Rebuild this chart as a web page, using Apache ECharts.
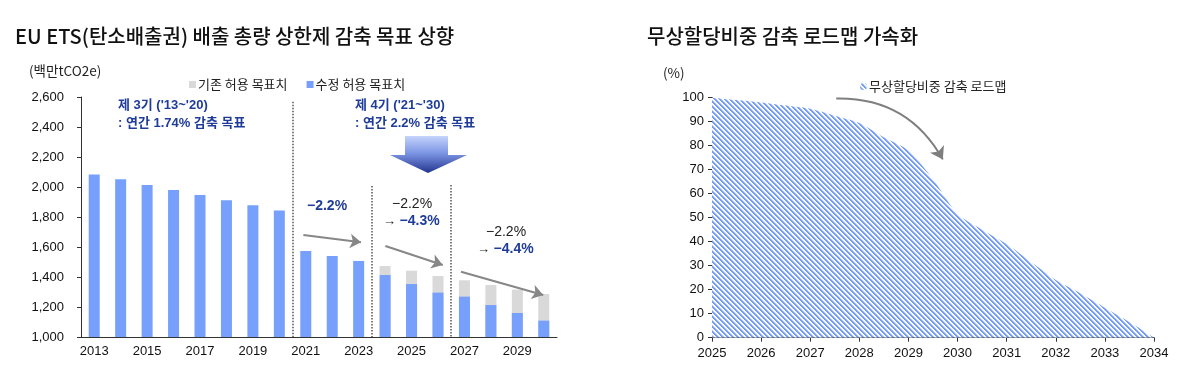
<!DOCTYPE html>
<html>
<head>
<meta charset="utf-8">
<script src="https://cdn.jsdelivr.net/npm/echarts@6/dist/echarts.min.js"></script>
<style>
html,body{margin:0;padding:0;background:#fff;}
#chart{width:1200px;height:379px;}
</style>
</head>
<body>
<div id="chart"></div>
<script>
// ---------- data ----------
const capYears = ['2013','2014','2015','2016','2017','2018','2019','2020','2021','2022','2023','2024','2025','2026','2027','2028','2029','2030'];
const revisedCap = [2084,2051,2013,1980,1947,1911,1878,1844,1573,1540,1507,1413,1353,1296,1269,1213,1160,1109];
const existingCap = [null,null,null,null,null,null,null,null,null,null,null,1473,1442,1407,1378,1347,1316,1287];
const capAxisMin = 1000, capAxisMax = 2600, capAxisStep = 200;

const roadmapYears = [2025,2025.5,2026,2026.5,2027,2027.5,2028,2028.5,2029,2029.5,2030,2030.5,2031,2031.5,2032,2032.5,2033,2033.5,2034];
const freeAllocShare = [100,99,98,96.7,95.4,92.5,89.5,83.5,78,66,51.5,45,39,31.5,24,18.5,12.5,6.5,0];
const shareAxisMin = 0, shareAxisMax = 100, shareAxisStep = 10;

// trend arrows (overlay x index, value)
const trendArrows = [
  [[8.41,1680],[10.59,1631]],
  [[11.51,1607],[13.68,1480]],
  [[14.37,1435],[17.48,1280]]
];
const phaseDividers = [
  [[8,2569],[8,1000]],
  [[11,2007],[11,1000]],
  [[14,2013],[14,1000]]
];
const roadmapArrow = [[2027.53,99.7],[2029.70,74.3]];

// ---------- styles ----------
const NUM = "'Liberation Sans','Arial',sans-serif";
const KR = "'Noto Sans CJK KR','Noto Sans',sans-serif";
const MIX = "'Liberation Sans','Arial','Noto Sans CJK KR',sans-serif";
const NAVY = '#1f3c99';
const BLUE = '#76a0fb';
const GRAY = '#d9d9d9';

function makeHatch(){
  const P = 5;
  const c = document.createElement('canvas');
  c.width = P; c.height = P;
  const ctx = c.getContext('2d');
  const img = ctx.createImageData(P, P);
  for (let y = 0; y < P; y++) {
    for (let x = 0; x < P; x++) {
      const d = ((x - y) % P + P) % P;
      let col;
      if (d === 0 || d === 1) col = [118,157,243];
      else if (d === 2) col = [175,200,249];
      else col = [250,252,255];
      const i = (y * P + x) * 4;
      img.data[i] = col[0]; img.data[i+1] = col[1]; img.data[i+2] = col[2]; img.data[i+3] = 255;
    }
  }
  ctx.putImageData(img, 0, 0);
  return c;
}
const hatch = makeHatch();

const chart = echarts.init(document.getElementById('chart'), null, {renderer:'canvas'});

const axisLineStyle = {color:'#333', width:1};

const option = {
  animation: false,
  backgroundColor: '#fff',
  grid: [
    {left:81, top:97, width:476, height:240},
    {left:712, top:97.7, width:442, height:240}
  ],
  legend: [
    {
      data:['기존 허용 목표치','수정 허용 목표치'],
      left:184, top:73, icon:'rect', itemWidth:7, itemHeight:7, itemGap:19,
      textStyle:{fontFamily:KR, fontSize:13, color:'#222', padding:[0,0,0,-3]},
      selectedMode:false
    },
    {
      data:[{name:'무상할당비중 감축 로드맵', itemStyle:{color:{image:hatch, repeat:'repeat'}}}],
      left:855, top:75, icon:'circle', itemWidth:7, itemHeight:7,
      textStyle:{fontFamily:KR, fontSize:13, color:'#222', padding:[0,0,0,-3]},
      selectedMode:false
    }
  ],
  xAxis: [
    {
      type:'category', gridIndex:0, data:capYears,
      axisLine:{lineStyle:axisLineStyle},
      axisTick:{interval:1, length:4, lineStyle:axisLineStyle},
      axisLabel:{interval:1, fontFamily:NUM, fontSize:13, color:'#111', margin:8}
    },
    {type:'value', gridIndex:0, min:0, max:capYears.length, show:false},
    {
      type:'value', gridIndex:1, min:2025, max:2034, interval:1,
      splitLine:{show:false},
      axisLine:{lineStyle:axisLineStyle},
      axisTick:{length:4, lineStyle:axisLineStyle},
      axisLabel:{fontFamily:NUM, fontSize:13, color:'#111', margin:9, formatter:v=>String(v)}
    }
  ],
  yAxis: [
    {
      type:'value', gridIndex:0, min:capAxisMin, max:capAxisMax, interval:capAxisStep,
      splitLine:{show:false},
      axisLine:{show:true, lineStyle:axisLineStyle},
      axisTick:{show:true, length:4, lineStyle:axisLineStyle},
      axisLabel:{fontFamily:NUM, fontSize:13, color:'#111', margin:17,
        formatter:v=>v.toLocaleString('en-US')}
    },
    {
      type:'value', gridIndex:1, min:shareAxisMin, max:shareAxisMax, interval:shareAxisStep,
      splitLine:{show:false},
      axisLine:{show:true, lineStyle:axisLineStyle},
      axisTick:{show:true, length:4, lineStyle:axisLineStyle},
      axisLabel:{fontFamily:NUM, fontSize:13, color:'#111', margin:8}
    }
  ],
  series: [
    {
      name:'기존 허용 목표치', type:'bar', xAxisIndex:0, yAxisIndex:0,
      data:existingCap, barWidth:11, barGap:'-100%', itemStyle:{color:GRAY}, z:2
    },
    {
      name:'수정 허용 목표치', type:'bar', xAxisIndex:0, yAxisIndex:0,
      data:revisedCap, barWidth:11, barGap:'-100%', itemStyle:{color:BLUE}, z:3
    },
    {
      type:'lines', coordinateSystem:'cartesian2d', xAxisIndex:1, yAxisIndex:0,
      data:phaseDividers.map(c=>({coords:c})), symbol:['none','none'],
      lineStyle:{color:'#555', width:1.5, type:[1.5,1.5], opacity:1}, z:4, silent:true
    },
    {
      type:'lines', coordinateSystem:'cartesian2d', xAxisIndex:1, yAxisIndex:0,
      data:trendArrows.map(c=>({coords:c})), symbol:['none','arrow'], symbolSize:11,
      lineStyle:{color:'#878787', width:2, opacity:1, curveness:0}, z:5, silent:true
    },
    {
      name:'무상할당비중 감축 로드맵', type:'line', xAxisIndex:2, yAxisIndex:1,
      data:roadmapYears.map((x,i)=>[x, freeAllocShare[i]]),
      showSymbol:false, smooth:0.25,
      lineStyle:{width:0},
      itemStyle:{color:'#7fa4f4'},
      areaStyle:{color:{image:hatch, repeat:'repeat'}, opacity:1}
    },
    {
      type:'lines', coordinateSystem:'cartesian2d', xAxisIndex:2, yAxisIndex:1,
      data:[{coords:roadmapArrow}], symbol:['none','arrow'], symbolSize:12,
      lineStyle:{color:'#7f7f7f', width:2, opacity:1, curveness:0.3}, z:5, silent:true
    }
  ],
  graphic: [
    {type:'text', left:15, top:26, style:{text:'EU ETS(탄소배출권) 배출 총량 상한제 감축 목표 상향', font:"500 20px 'Noto Sans CJK KR',sans-serif", fill:'#111'}},
    {type:'text', left:647, top:26, style:{text:'무상할당비중 감축 로드맵 가속화', font:"500 20px 'Noto Sans CJK KR',sans-serif", fill:'#111'}},
    {type:'text', left:29, top:64, style:{text:'(백만tCO2e)', font:"13.5px 'Noto Sans CJK KR',sans-serif", fill:'#222'}},
    {type:'text', left:663, top:66, style:{text:'(%)', font:"13.5px 'Noto Sans CJK KR',sans-serif", fill:'#222'}},
    {type:'text', left:118, top:99, style:{text:"제 3기 ('13~'20)", font:"bold 13px "+MIX, fill:NAVY}},
    {type:'text', left:118, top:117, style:{text:": 연간 1.74% 감축 목표", font:"bold 13px "+MIX, fill:NAVY}},
    {type:'text', left:355, top:99, style:{text:"제 4기 ('21~'30)", font:"bold 13px "+MIX, fill:NAVY}},
    {type:'text', left:355, top:117, style:{text:": 연간 2.2% 감축 목표", font:"bold 13px "+MIX, fill:NAVY}},
    {type:'polygon', shape:{points:[[405,136],[448,136],[448,155],[467,155],[428,173],[390,155],[405,155]]},
      style:{fill:new echarts.graphic.LinearGradient(0,0,0,1,[{offset:0,color:'#c4d3fb'},{offset:0.45,color:'#7f98e6'},{offset:1,color:'#23358f'}])}},
    {type:'text', left:307, top:199, style:{text:'−2.2%', font:"bold 14px "+NUM, fill:NAVY}},
    {type:'text', left:392, top:197, style:{text:'−2.2%', font:"14px "+NUM, fill:'#222'}},
    {type:'text', left:383, top:214, style:{rich:{a:{font:"13px "+NUM, fill:'#222'}, b:{font:"bold 14px "+NUM, fill:NAVY}}, text:'{a|→ }{b|−4.3%}'}},
    {type:'text', left:486, top:225, style:{text:'−2.2%', font:"14px "+NUM, fill:'#222'}},
    {type:'text', left:477, top:242, style:{rich:{a:{font:"13px "+NUM, fill:'#222'}, b:{font:"bold 14px "+NUM, fill:NAVY}}, text:'{a|→ }{b|−4.4%}'}}
  ]
};
chart.setOption(option);
</script>
</body>
</html>
